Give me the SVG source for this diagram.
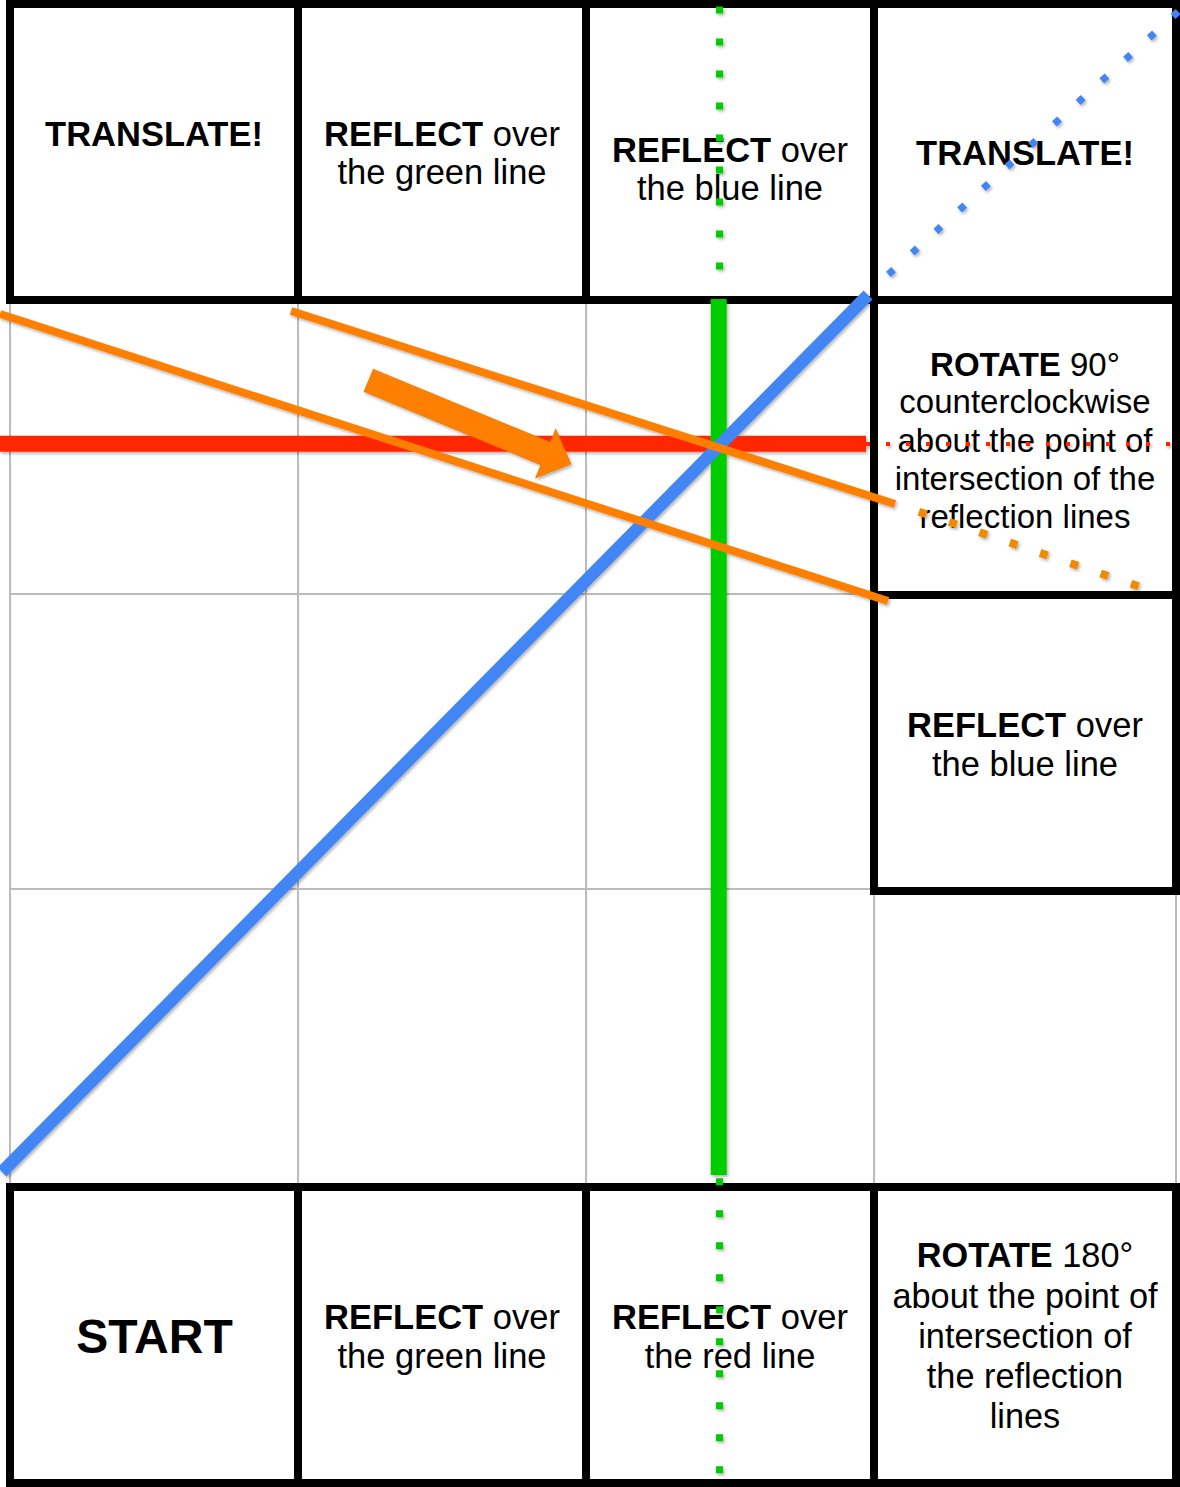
<svg xmlns="http://www.w3.org/2000/svg" width="1180" height="1487" viewBox="0 0 1180 1487">
<style>
.grid{stroke:#bbbbbb;stroke-width:2;fill:none}
.box{fill:#ffffff;stroke:#000000;stroke-width:8}
.t{font-family:"Liberation Sans",Arial,Helvetica,sans-serif;fill:#000000;text-anchor:middle}
.b{font-weight:bold}
.s34{font-size:34.5px}
.s33{font-size:33px}
.s343{font-size:34.3px}
</style>
<defs>
<filter id="sh" x="-10%" y="-10%" width="120%" height="120%">
<feDropShadow dx="1.5" dy="2" stdDeviation="1.5" flood-color="#000000" flood-opacity="0.3"/>
</filter>
</defs>
<rect x="0" y="0" width="1180" height="1487" fill="#ffffff"/>
<g id="grid">
<line class="grid" x1="10" y1="300" x2="10" y2="1187"/>
<line class="grid" x1="298" y1="300" x2="298" y2="1187"/>
<line class="grid" x1="586" y1="300" x2="586" y2="1187"/>
<line class="grid" x1="874" y1="300" x2="874" y2="1187"/>
<line class="grid" x1="1176" y1="300" x2="1176" y2="1187"/>
<line class="grid" x1="10" y1="300" x2="1176" y2="300"/>
<line class="grid" x1="10" y1="594" x2="1176" y2="594"/>
<line class="grid" x1="10" y1="889" x2="1176" y2="889"/>
<line class="grid" x1="10" y1="1187" x2="1176" y2="1187"/>
</g>
<g id="cell-translate-1">
<rect class="box" x="10" y="4" width="288" height="296"/>
<text class="t b s34" x="154" y="145.7">TRANSLATE!</text>
</g>
<g id="cell-reflect-green-top">
<rect class="box" x="298" y="4" width="288" height="296"/>
<text class="t s34" x="442" y="145.5"><tspan class="b">REFLECT</tspan> over</text>
<text class="t s34" x="442" y="184">the green line</text>
</g>
<g id="cell-reflect-blue-top">
<rect class="box" x="586" y="4" width="288" height="296"/>
<text class="t s34" x="730" y="161.7"><tspan class="b">REFLECT</tspan> over</text>
<text class="t s34" x="730" y="200">the blue line</text>
</g>
<g id="cell-translate-2">
<rect class="box" x="874" y="4" width="302" height="296"/>
<text class="t b s34" x="1025" y="165">TRANSLATE!</text>
</g>
<g id="cell-rotate-90">
<rect class="box" x="874" y="300" width="302" height="295"/>
<text class="t s33" x="1025" y="375.7"><tspan class="b">ROTATE</tspan> 90°</text>
<text class="t s33" x="1025" y="413.3">counterclockwise</text>
<text class="t s33" x="1025" y="451.7">about the point of</text>
<text class="t s33" x="1025" y="490">intersection of the</text>
<text class="t s33" x="1025" y="528.3">reflection lines</text>
</g>
<g id="cell-reflect-blue-right">
<rect class="box" x="874" y="595" width="302" height="296"/>
<text class="t s34" x="1025" y="736.7"><tspan class="b">REFLECT</tspan> over</text>
<text class="t s34" x="1025" y="776">the blue line</text>
</g>
<g id="cell-start">
<rect class="box" x="10" y="1187" width="288" height="296"/>
<text class="t b" style="font-size:48px" x="154.5" y="1353.3">START</text>
</g>
<g id="cell-reflect-green-bottom">
<rect class="box" x="298" y="1187" width="288" height="296"/>
<text class="t s34" x="442" y="1329"><tspan class="b">REFLECT</tspan> over</text>
<text class="t s34" x="442" y="1368.3">the green line</text>
</g>
<g id="cell-reflect-red">
<rect class="box" x="586" y="1187" width="288" height="296"/>
<text class="t s34" x="730" y="1329"><tspan class="b">REFLECT</tspan> over</text>
<text class="t s34" x="730" y="1368.3">the red line</text>
</g>
<g id="cell-rotate-180">
<rect class="box" x="874" y="1187" width="302" height="296"/>
<text class="t s343" x="1025" y="1267.3"><tspan class="b">ROTATE</tspan> 180°</text>
<text class="t s343" x="1025" y="1308.3">about the point of</text>
<text class="t s343" x="1025" y="1348.3">intersection of</text>
<text class="t s343" x="1025" y="1388.3">the reflection</text>
<text class="t s343" x="1025" y="1428.3">lines</text>
</g>
<g id="connectors" filter="url(#sh)">
<line x1="0" y1="443.7" x2="866" y2="443.7" stroke="#ff2600" stroke-width="16"/>
<line x1="866" y1="444" x2="1172" y2="444" stroke="#ff2600" stroke-width="4" stroke-dasharray="4 16"/>
<line x1="718.7" y1="299" x2="718.7" y2="1175" stroke="#00cc00" stroke-width="16"/>
<line x1="719.5" y1="6.5" x2="719.5" y2="270" stroke="#00cc00" stroke-width="7" stroke-dasharray="7 25"/>
<line x1="719.5" y1="1178.2" x2="719.5" y2="1476" stroke="#00cc00" stroke-width="7" stroke-dasharray="7 25"/>
<line x1="2" y1="1172" x2="868" y2="295" stroke="#4285f4" stroke-width="12.5"/>
<line x1="888.4" y1="274.3" x2="1180" y2="10" stroke="#4285f4" stroke-width="7" stroke-dasharray="7 25"/>
<line x1="0" y1="314" x2="888" y2="601" stroke="#ff8000" stroke-width="8"/>
<line x1="291" y1="311" x2="895" y2="504" stroke="#ff8000" stroke-width="8"/>
<line x1="918.9" y1="511.7" x2="1142" y2="587.5" stroke="#f08a00" stroke-width="8" stroke-dasharray="8 24"/>
<polygon transform="translate(368.8,380.5) rotate(22.46)" points="0,-12 191.5,-12 191.5,-26 218.5,0 191.5,26 191.5,12 0,12" fill="#ff8000" stroke="#ee7a00" stroke-width="1"/>
</g>
</svg>
